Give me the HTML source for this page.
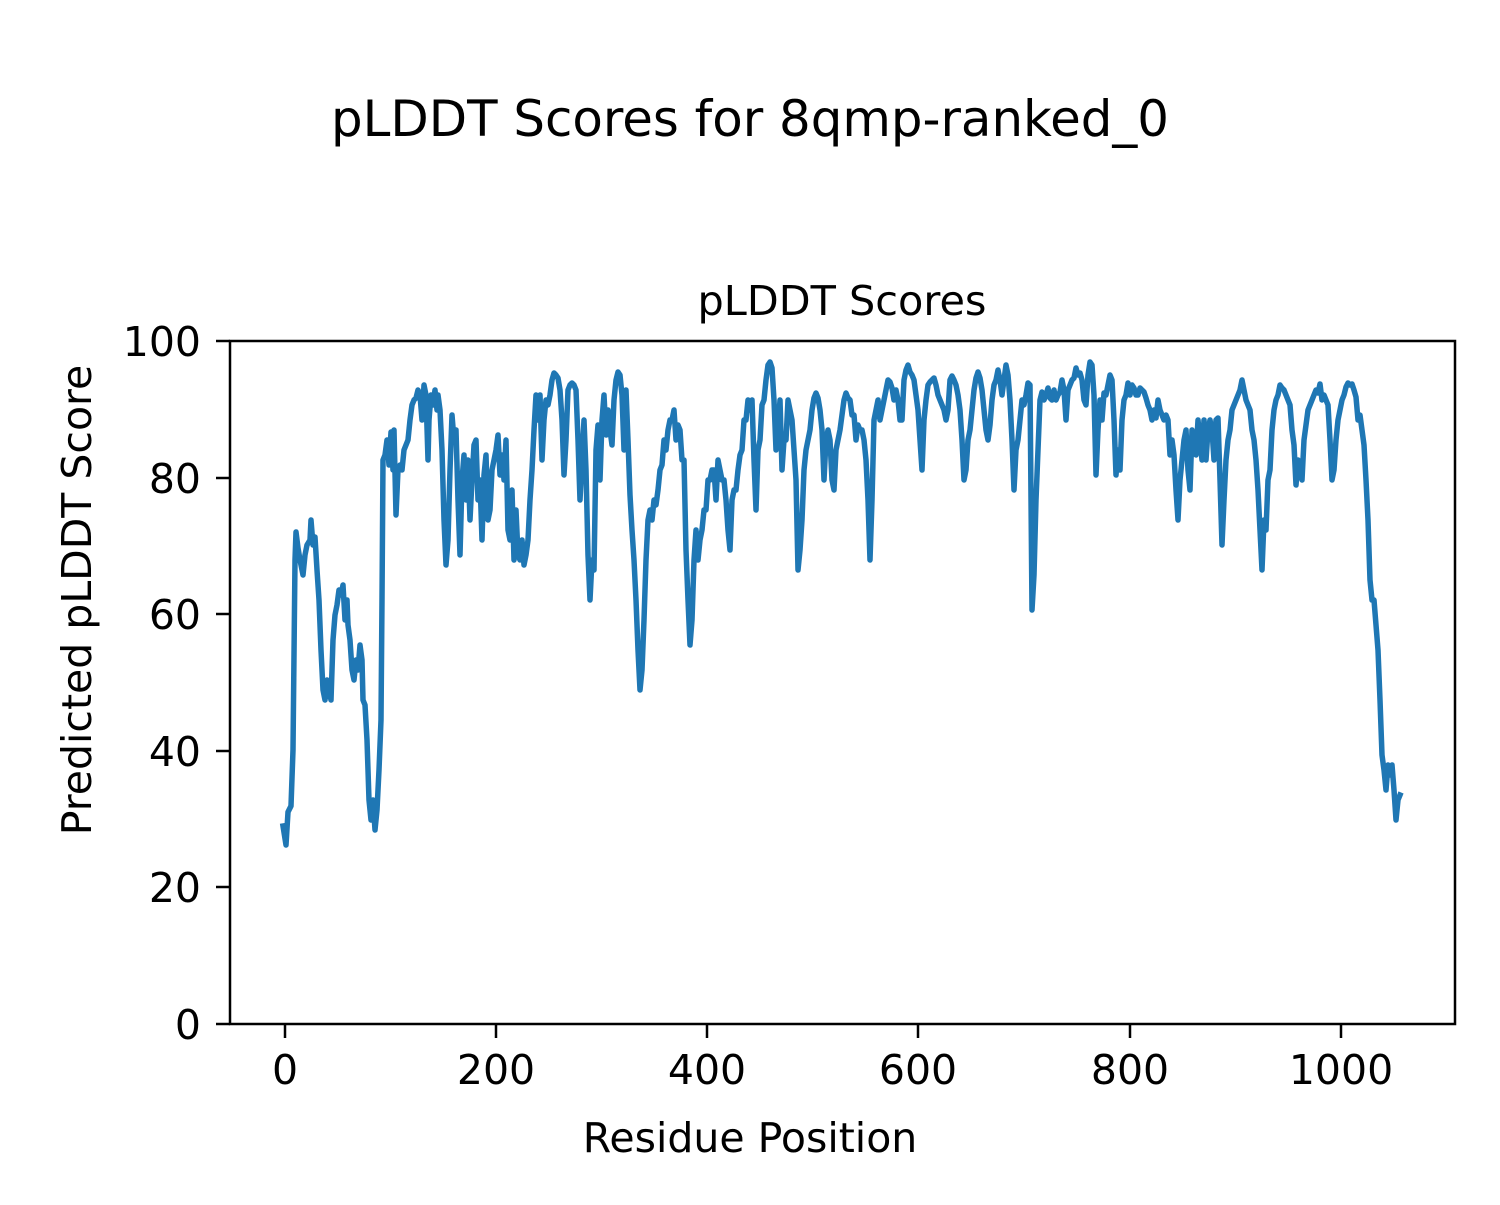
<!DOCTYPE html>
<html><head><meta charset="utf-8"><style>html,body{margin:0;padding:0;background:#fff}</style></head>
<body>
<svg width="1500" height="1200" viewBox="0 0 1500 1200" xmlns="http://www.w3.org/2000/svg" font-family="DejaVu Sans, Liberation Sans, sans-serif">
<rect width="1500" height="1200" fill="#fff"/>
<text x="750" y="136" font-size="50" text-anchor="middle" textLength="838" lengthAdjust="spacingAndGlyphs">pLDDT Scores for 8qmp-ranked_0</text>
<text x="842" y="315" font-size="41" text-anchor="middle" textLength="289" lengthAdjust="spacingAndGlyphs">pLDDT Scores</text>
<polyline fill="none" stroke="#1f77b4" stroke-width="5.5" stroke-linejoin="round" stroke-linecap="square" points="283,826 286,845 288,812 291,806 293,750 295,560 296,532 298,548 300,560 302,570 303,575 305,555 307,545 310,540 311,520 313,545 315,537 317,570 319,600 321,650 323,690 325,700 327,680 329,690 331,700 333,640 335,615 337,605 339,590 341,595 343,585 345,620 347,600 348,625 350,640 352,670 354,680 356,660 358,670 360,645 362,660 363,700 365,705 367,740 369,800 371,820 373,800 375,830 377,810 379,770 381,720 382,600 383,460 385,455 387,440 389,465 391,432 393,470 394,430 396,515 398,470 400,465 402,470 404,450 406,445 408,440 410,420 412,405 414,400 416,398 418,390 420,395 422,420 424,385 426,395 428,460 429,420 431,395 433,405 435,390 437,410 438,395 440,410 442,450 444,520 446,565 448,540 450,470 452,415 454,440 456,430 458,500 460,555 462,480 464,455 466,500 468,460 470,520 472,480 474,445 476,440 478,500 480,480 482,540 484,475 486,455 488,520 490,510 492,470 494,460 496,450 498,435 500,475 502,455 504,480 506,440 508,530 510,540 512,490 514,560 516,510 518,555 520,560 522,540 524,565 526,555 528,540 530,500 532,470 534,430 536,395 538,420 540,395 542,460 544,420 546,400 548,405 550,395 552,380 554,373 556,375 558,378 560,390 562,420 564,475 566,440 568,390 570,385 572,383 574,385 576,390 578,440 580,500 582,460 584,420 586,470 588,555 590,600 592,560 594,570 596,450 598,425 600,480 602,420 604,395 606,435 608,410 610,430 612,445 614,400 616,380 618,372 620,375 622,395 624,450 626,390 628,440 630,495 632,530 634,560 636,600 638,650 640,690 642,670 644,620 646,560 648,520 650,510 652,520 654,500 656,505 658,490 660,470 662,465 664,440 666,450 668,430 670,420 672,420 674,410 676,440 678,425 680,430 682,460 684,460 686,550 688,600 690,645 692,620 694,560 696,530 698,560 700,540 702,530 704,510 706,510 708,480 710,480 712,470 714,470 716,500 718,460 720,470 722,480 724,480 726,500 728,530 730,550 732,500 734,490 736,490 738,470 740,455 742,450 744,420 746,420 748,400 750,410 752,400 754,460 756,510 758,450 760,440 762,405 764,400 766,380 768,365 770,362 772,368 774,400 776,450 778,430 780,400 782,470 784,440 786,440 788,400 790,410 792,420 794,450 796,480 798,570 800,550 802,520 804,470 806,450 808,440 810,430 812,410 814,398 816,393 818,398 820,410 822,430 824,480 826,440 828,430 830,440 832,480 834,490 836,450 838,440 840,430 842,415 844,400 846,393 848,398 850,400 852,415 854,415 856,440 858,425 860,430 862,430 864,440 866,460 868,500 870,560 872,500 874,420 876,410 878,400 880,420 882,410 884,400 886,390 888,380 890,382 892,388 894,400 896,390 898,400 900,420 902,420 904,380 906,370 908,365 910,372 912,375 914,380 916,395 918,410 920,440 922,470 924,420 926,400 928,385 930,382 932,380 934,378 936,385 938,395 940,400 942,405 944,410 946,420 948,410 950,380 952,376 954,380 956,385 958,395 960,410 962,440 964,480 966,470 968,440 970,430 972,410 974,390 976,378 978,372 980,378 982,390 984,410 986,430 988,440 990,425 992,400 994,385 996,380 998,370 1000,380 1002,395 1004,380 1006,365 1008,375 1010,400 1012,440 1014,490 1016,450 1018,440 1020,420 1022,400 1024,405 1026,395 1028,383 1030,385 1032,610 1034,575 1036,500 1038,450 1040,400 1042,392 1044,400 1046,395 1048,388 1050,398 1052,400 1054,390 1056,400 1058,395 1060,392 1062,380 1064,390 1066,420 1068,390 1070,385 1072,380 1074,378 1076,368 1078,375 1080,373 1082,380 1084,400 1086,405 1088,375 1090,362 1092,365 1094,395 1096,475 1098,430 1100,400 1102,420 1104,393 1106,395 1108,385 1110,375 1112,380 1114,420 1116,475 1118,450 1120,470 1122,420 1124,400 1126,395 1128,383 1130,395 1132,385 1134,388 1136,395 1138,395 1140,388 1142,390 1144,392 1146,398 1148,405 1150,410 1152,420 1154,410 1156,418 1158,400 1160,410 1162,415 1164,420 1166,415 1168,420 1170,455 1172,440 1174,455 1176,490 1178,520 1180,480 1182,460 1184,440 1186,430 1188,470 1190,490 1192,430 1194,440 1196,455 1198,420 1200,440 1202,460 1204,420 1206,460 1208,430 1210,420 1212,430 1214,460 1216,420 1218,418 1220,480 1222,545 1224,500 1226,460 1228,440 1230,430 1232,410 1234,405 1236,400 1238,395 1240,390 1242,380 1244,390 1246,400 1248,405 1250,410 1252,430 1254,440 1256,460 1258,490 1260,530 1262,570 1264,520 1266,530 1268,480 1270,470 1272,430 1274,410 1276,400 1278,395 1280,385 1282,388 1284,390 1286,395 1288,400 1290,405 1292,430 1294,445 1296,485 1298,460 1300,470 1302,480 1304,440 1306,425 1308,410 1310,405 1312,400 1314,395 1316,390 1318,393 1320,384 1322,400 1324,395 1326,400 1328,405 1330,440 1332,480 1334,470 1336,440 1338,420 1340,410 1342,400 1344,395 1346,387 1348,383 1350,385 1352,384 1354,390 1356,397 1358,420 1360,415 1362,430 1364,445 1366,480 1368,520 1370,580 1372,600 1374,600 1376,625 1378,650 1380,700 1382,755 1384,770 1386,790 1388,765 1390,775 1392,765 1394,790 1396,820 1398,800 1400,795"/>
<rect x="230" y="341" width="1225" height="683" fill="none" stroke="#000" stroke-width="2.5"/>
<g stroke="#000" stroke-width="2.5">
<line x1="285" y1="1024" x2="285" y2="1038"/><line x1="496" y1="1024" x2="496" y2="1038"/><line x1="707" y1="1024" x2="707" y2="1038"/><line x1="918" y1="1024" x2="918" y2="1038"/><line x1="1130" y1="1024" x2="1130" y2="1038"/><line x1="1341" y1="1024" x2="1341" y2="1038"/>
<line x1="216" y1="1024" x2="230" y2="1024"/><line x1="216" y1="887" x2="230" y2="887"/><line x1="216" y1="751" x2="230" y2="751"/><line x1="216" y1="614" x2="230" y2="614"/><line x1="216" y1="478" x2="230" y2="478"/><line x1="216" y1="341" x2="230" y2="341"/>
</g>
<g font-size="41" text-anchor="middle">
<text x="285" y="1084">0</text><text x="496" y="1084">200</text><text x="707" y="1084">400</text><text x="918" y="1084">600</text><text x="1130" y="1084">800</text><text x="1341" y="1084">1000</text>
</g>
<g font-size="41" text-anchor="end">
<text x="201" y="1039">0</text><text x="201" y="902">20</text><text x="201" y="766">40</text><text x="201" y="629">60</text><text x="201" y="493">80</text><text x="201" y="356">100</text>
</g>
<text x="750" y="1152" font-size="41" text-anchor="middle">Residue Position</text>
<text transform="translate(91,600) rotate(-90)" font-size="41" text-anchor="middle">Predicted pLDDT Score</text>
</svg>
</body></html>
